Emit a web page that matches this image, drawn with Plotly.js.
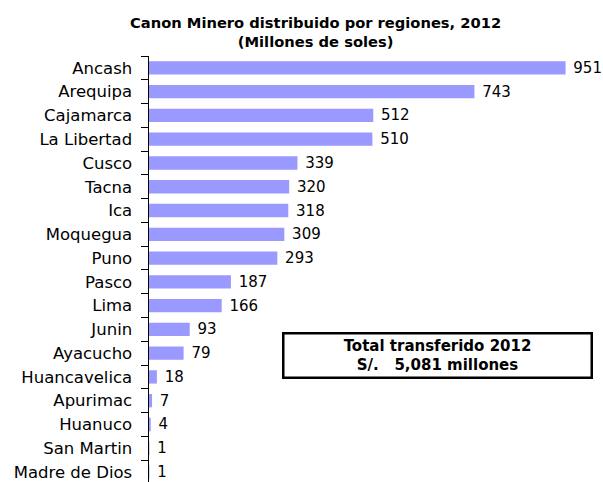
<!DOCTYPE html>
<html><head><meta charset="utf-8">
<script src="https://cdn.plot.ly/plotly-3.0.1.min.js"></script>
<style>html,body{margin:0;padding:0;background:#fff}#chart{width:603px;height:482px}</style>
</head><body><div id="chart"></div>
<script>
const regions = ["Ancash","Arequipa","Cajamarca","La Libertad","Cusco","Tacna","Ica","Moquegua","Puno","Pasco","Lima","Junin","Ayacucho","Huancavelica","Apurimac","Huanuco","San Martin","Madre de Dios"];
const values = [951,743,512,510,339,320,318,309,293,187,166,93,79,18,7,4,1,1];
const titleText = "<b>Canon Minero distribuido por regiones, 2012<br>(Millones de soles)</b>";
const boxText = "<b>Total transferido 2012<br>S/.   5,081 millones</b>";

const font = "DejaVu Sans, Verdana, sans-serif";
const trace = {
  type: "bar", orientation: "h",
  y: regions, x: values,
  text: values.map(v => "\u00a0" + v), textposition: "outside", cliponaxis: false, constraintext: "none",
  textfont: {family: font, size: 15, color: "#000"},
  marker: {color: "#9999ff"},
  hoverinfo: "none"
};
const layout = {
  width: 603, height: 482,
  margin: {l: 149, r: 16, t: 56, b: 0},
  paper_bgcolor: "#fff", plot_bgcolor: "#fff",
  showlegend: false,
  bargap: 0.44,
  xaxis: {range: [0, 1000], visible: false, fixedrange: true},
  yaxis: {type: "category", range: [17.42, -0.5], showline: true, linecolor: "#000", linewidth: 1.5,
          ticks: "outside", tickson: "boundaries", ticklen: 7, tickcolor: "#000", tickwidth: 1,
          ticklabelstandoff: 12,
          tickfont: {family: font, size: 16.5, color: "#000"}, showgrid: false, zeroline: false},
  annotations: [{
    text: titleText, xref: "paper", yref: "paper", x: 0.379, y: 1.01, xanchor: "center", yanchor: "bottom",
    showarrow: false, font: {family: font, size: 14.7, color: "#000"}, align: "center"
  }, {
    text: boxText, xref: "paper", yref: "paper", x: 0.658, y: 0.298, xanchor: "center", yanchor: "middle",
    showarrow: false, width: 304, height: 40, bordercolor: "#000", borderwidth: 2.5, borderpad: 1, bgcolor: "#fff",
    font: {family: font, size: 15, color: "#000"}, align: "center"
  }]
};
Plotly.newPlot("chart", [trace], layout, {staticPlot: true, displayModeBar: false});
</script></body></html>
